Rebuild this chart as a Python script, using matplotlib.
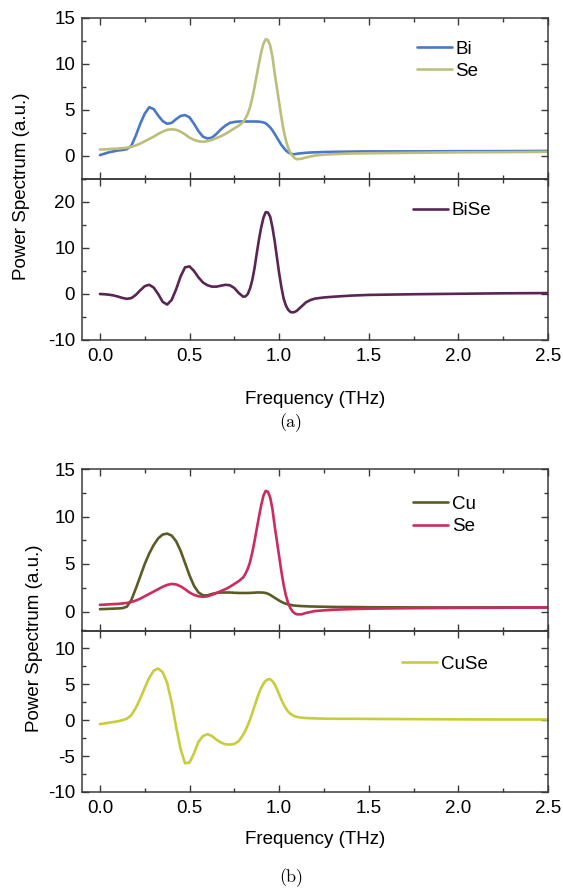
import matplotlib
matplotlib.use("Agg")
import matplotlib.pyplot as plt
from matplotlib.ticker import MultipleLocator

plt.rcParams['font.family'] = ['Liberation Sans', 'DejaVu Sans']
plt.rcParams['axes.unicode_minus'] = False

# ---------------- data ----------------
freq = [0.0, 0.025, 0.05, 0.075, 0.1, 0.125, 0.15, 0.175, 0.2, 0.225,
        0.25, 0.275, 0.3, 0.325, 0.35, 0.375, 0.4, 0.425, 0.45, 0.475,
        0.5, 0.525, 0.55, 0.575, 0.6, 0.625, 0.65, 0.675, 0.7, 0.725,
        0.75, 0.775, 0.8,
        0.8125, 0.825, 0.8375, 0.85, 0.8625, 0.875, 0.8875, 0.9, 0.9125,
        0.925, 0.9375, 0.95, 0.9625, 0.975, 0.9875, 1.0, 1.0125, 1.025,
        1.0375, 1.05, 1.0625, 1.075, 1.0875, 1.1,
        1.125, 1.15, 1.175, 1.2,
        1.25, 1.3, 1.4, 1.5, 1.75, 2.0, 2.25, 2.5]

bi = [0.1, 0.25, 0.4, 0.5, 0.6, 0.65, 0.75, 1.1, 2.2, 3.5,
      4.6, 5.3, 5.1, 4.4, 3.8, 3.5, 3.6, 4.0, 4.35, 4.45,
      4.2, 3.5, 2.7, 2.1, 1.9, 2.0, 2.4, 2.9, 3.3, 3.6,
      3.7, 3.75, 3.75,
      3.75, 3.75, 3.75, 3.75, 3.75, 3.75, 3.73, 3.7, 3.65,
      3.55, 3.35, 3.1, 2.8, 2.4, 2.0, 1.6, 1.2, 0.9,
      0.6, 0.4, 0.27, 0.2, 0.2, 0.25,
      0.3, 0.35, 0.38, 0.4,
      0.43, 0.45, 0.48, 0.5, 0.5, 0.52, 0.53, 0.55]

se_a = [0.7, 0.72, 0.75, 0.78, 0.8, 0.85, 0.9, 1.0, 1.15, 1.35,
        1.6, 1.85, 2.1, 2.4, 2.65, 2.85, 2.9, 2.85, 2.65, 2.35,
        2.0, 1.75, 1.6, 1.55, 1.6, 1.75, 1.95, 2.15, 2.4, 2.7,
        3.0, 3.3, 3.7,
        4.1, 4.6, 5.3, 6.3, 7.5, 8.8, 10.1, 11.3, 12.2,
        12.7, 12.6, 12.0, 10.8, 9.0, 7.4, 5.8, 4.2, 2.8,
        1.7, 0.9, 0.35, 0.0, -0.25, -0.35,
        -0.3, -0.15, -0.05, 0.05,
        0.15, 0.2, 0.27, 0.3, 0.35, 0.4, 0.42, 0.45]

bise = [0.0, -0.05, -0.15, -0.3, -0.55, -0.85, -1.05, -0.9, -0.2, 0.8,
        1.7, 2.0, 1.4, 0.0, -1.7, -2.3, -1.3, 1.0, 3.8, 5.8,
        6.0, 5.0, 3.6, 2.5, 1.9, 1.6, 1.6, 1.8, 2.0, 1.9,
        1.3, 0.2, -0.6,
        -0.5, 0.0, 1.2, 3.0, 5.6, 8.8, 11.9, 14.5, 16.6,
        17.8, 17.7, 16.8, 14.5, 11.5, 8.0, 4.5, 1.5, -1.0,
        -2.5, -3.4, -3.9, -4.0, -3.9, -3.6,
        -2.7, -1.8, -1.3, -1.0,
        -0.75, -0.6, -0.35, -0.2, -0.05, 0.05, 0.15, 0.2]

cu = [0.25, 0.26, 0.28, 0.3, 0.32, 0.35, 0.5, 1.2, 2.4, 3.7,
      5.0, 6.1, 7.0, 7.7, 8.1, 8.2, 8.0, 7.4, 6.4, 5.1,
      3.8, 2.7, 2.0, 1.7, 1.7, 1.85, 1.95, 2.0, 2.0, 2.0,
      1.97, 1.95, 1.95,
      1.95, 1.95, 1.96, 1.97, 1.98, 2.0, 2.0, 2.0, 1.98,
      1.95, 1.87, 1.75, 1.6, 1.45, 1.3, 1.15, 1.02, 0.9,
      0.82, 0.75, 0.7, 0.65, 0.62, 0.6,
      0.57, 0.55, 0.53, 0.52,
      0.5, 0.48, 0.47, 0.45, 0.43, 0.43, 0.43, 0.43]

se_b = [0.7, 0.72, 0.75, 0.78, 0.8, 0.85, 0.9, 1.0, 1.15, 1.35,
        1.6, 1.85, 2.1, 2.35, 2.6, 2.8, 2.9, 2.85, 2.65, 2.35,
        2.0, 1.75, 1.6, 1.55, 1.6, 1.75, 1.95, 2.15, 2.35, 2.6,
        2.9, 3.2, 3.6,
        4.0, 4.5, 5.2, 6.2, 7.4, 8.7, 10.0, 11.2, 12.2,
        12.7, 12.6, 12.0, 10.8, 9.0, 7.4, 5.8, 4.2, 2.8,
        1.7, 0.9, 0.35, 0.0, -0.2, -0.3,
        -0.3, -0.15, -0.05, 0.05,
        0.12, 0.18, 0.25, 0.3, 0.35, 0.38, 0.4, 0.42]

cuse = [-0.55, -0.45, -0.35, -0.25, -0.15, 0.0, 0.2, 0.7, 1.7, 3.0,
        4.5, 5.9, 6.9, 7.2, 6.7, 5.2, 2.5, -0.9, -4.0, -6.0,
        -5.9, -4.6, -3.0, -2.2, -1.95, -2.2, -2.7, -3.1, -3.35, -3.4,
        -3.3, -2.9, -2.0,
        -1.4, -0.7, 0.1, 1.0, 1.95, 2.9, 3.8, 4.5, 5.1,
        5.5, 5.7, 5.7, 5.45, 5.0, 4.35, 3.6, 2.85, 2.2,
        1.65, 1.2, 0.9, 0.7, 0.55, 0.45,
        0.35, 0.3, 0.28, 0.25,
        0.22, 0.2, 0.2, 0.18, 0.15, 0.12, 0.1, 0.1]

xticks = [0.0, 0.5, 1.0, 1.5, 2.0, 2.5]
xlabel = "Frequency (THz)"
ylabel = "Power Spectrum (a.u.)"

# ---------------- styling ----------------
C_BI = "#4a78c8"
C_SE_A = "#bcbf7a"
C_BISE = "#5a2553"
C_CU = "#5b5b26"
C_SE_B = "#cc2b5e"
C_CUSE = "#c9cc3c"
SPINE = "#3a3a3a"
FS = 13.5
LW = 1.9

fig = plt.figure(figsize=(5.63, 8.90), dpi=100)

L, W = 82 / 563, 466 / 563


def ax_at(top_px, bot_px):
    return fig.add_axes([L, 1 - bot_px / 890, W, (bot_px - top_px) / 890])


def style(ax, ylim, major, minor, show_x):
    ax.set_xlim(-0.1, 2.5)
    ax.set_ylim(*ylim)
    ax.set_xticks(xticks)
    ax.xaxis.set_minor_locator(MultipleLocator(0.25))
    ax.yaxis.set_major_locator(MultipleLocator(major))
    ax.yaxis.set_minor_locator(MultipleLocator(minor))
    ax.tick_params(which='both', direction='in', top=True, right=True,
                   color=SPINE, width=1.0, labelsize=FS)
    ax.tick_params(which='major', length=5, pad=5)
    ax.tick_params(which='minor', length=2.6)
    ax.tick_params(axis='x', pad=6)
    if show_x:
        ax.set_xticklabels([f"{v:.1f}" for v in xticks])
    else:
        ax.tick_params(axis='x', labelbottom=False)
    for s in ax.spines.values():
        s.set_color(SPINE)
        s.set_linewidth(1.1)
    ax.set_facecolor('none')


def leg(ax, x, y):
    ax.legend(loc='upper left', bbox_to_anchor=(x, y), frameon=False,
              fontsize=FS, borderpad=0, borderaxespad=0, handlelength=1.87,
              handletextpad=0.2, labelspacing=0.28)


def draw(ax, y, color, label):
    ax.plot(freq, y, color=color, lw=LW, label=label,
            solid_joinstyle='round', solid_capstyle='round')


# ----- panel (a) -----
a1 = ax_at(18, 179)
draw(a1, bi, C_BI, "Bi")
draw(a1, se_a, C_SE_A, "Se")
style(a1, (-2.5, 15), 5, 2.5, False)
leg(a1, 0.718, 0.86)

a2 = ax_at(179, 340)
draw(a2, bise, C_BISE, "BiSe")
style(a2, (-10, 25), 10, 5, True)
leg(a2, 0.710, 0.855)

fig.text(21.5 / 563, 1 - 186 / 890, ylabel, rotation=90, ha='center',
         va='center', fontsize=FS)
fig.text(315 / 563, 1 - 400 / 890, xlabel, ha='center', va='center',
         fontsize=FS)
fig.text(291 / 563, 1 - 423 / 890, "(a)", ha='center', va='center',
         fontsize=13, family=['cmr10', 'DejaVu Serif'])

# ----- panel (b) -----
b1 = ax_at(469, 630.5)
draw(b1, cu, C_CU, "Cu")
draw(b1, se_b, C_SE_B, "Se")
style(b1, (-2, 15), 5, 2.5, False)
leg(b1, 0.710, 0.835)

b2 = ax_at(630.5, 792)
draw(b2, cuse, C_CUSE, "CuSe")
style(b2, (-10, 12.5), 5, 2.5, True)
leg(b2, 0.687, 0.845)

fig.text(35 / 563, 1 - 638 / 890, ylabel, rotation=90, ha='center',
         va='center', fontsize=FS)
fig.text(315 / 563, 1 - 840 / 890, xlabel, ha='center', va='center',
         fontsize=FS)
fig.text(291 / 563, 1 - 878 / 890, "(b)", ha='center', va='center',
         fontsize=13, family=['cmr10', 'DejaVu Serif'])

fig.savefig("out.png", dpi=100)
